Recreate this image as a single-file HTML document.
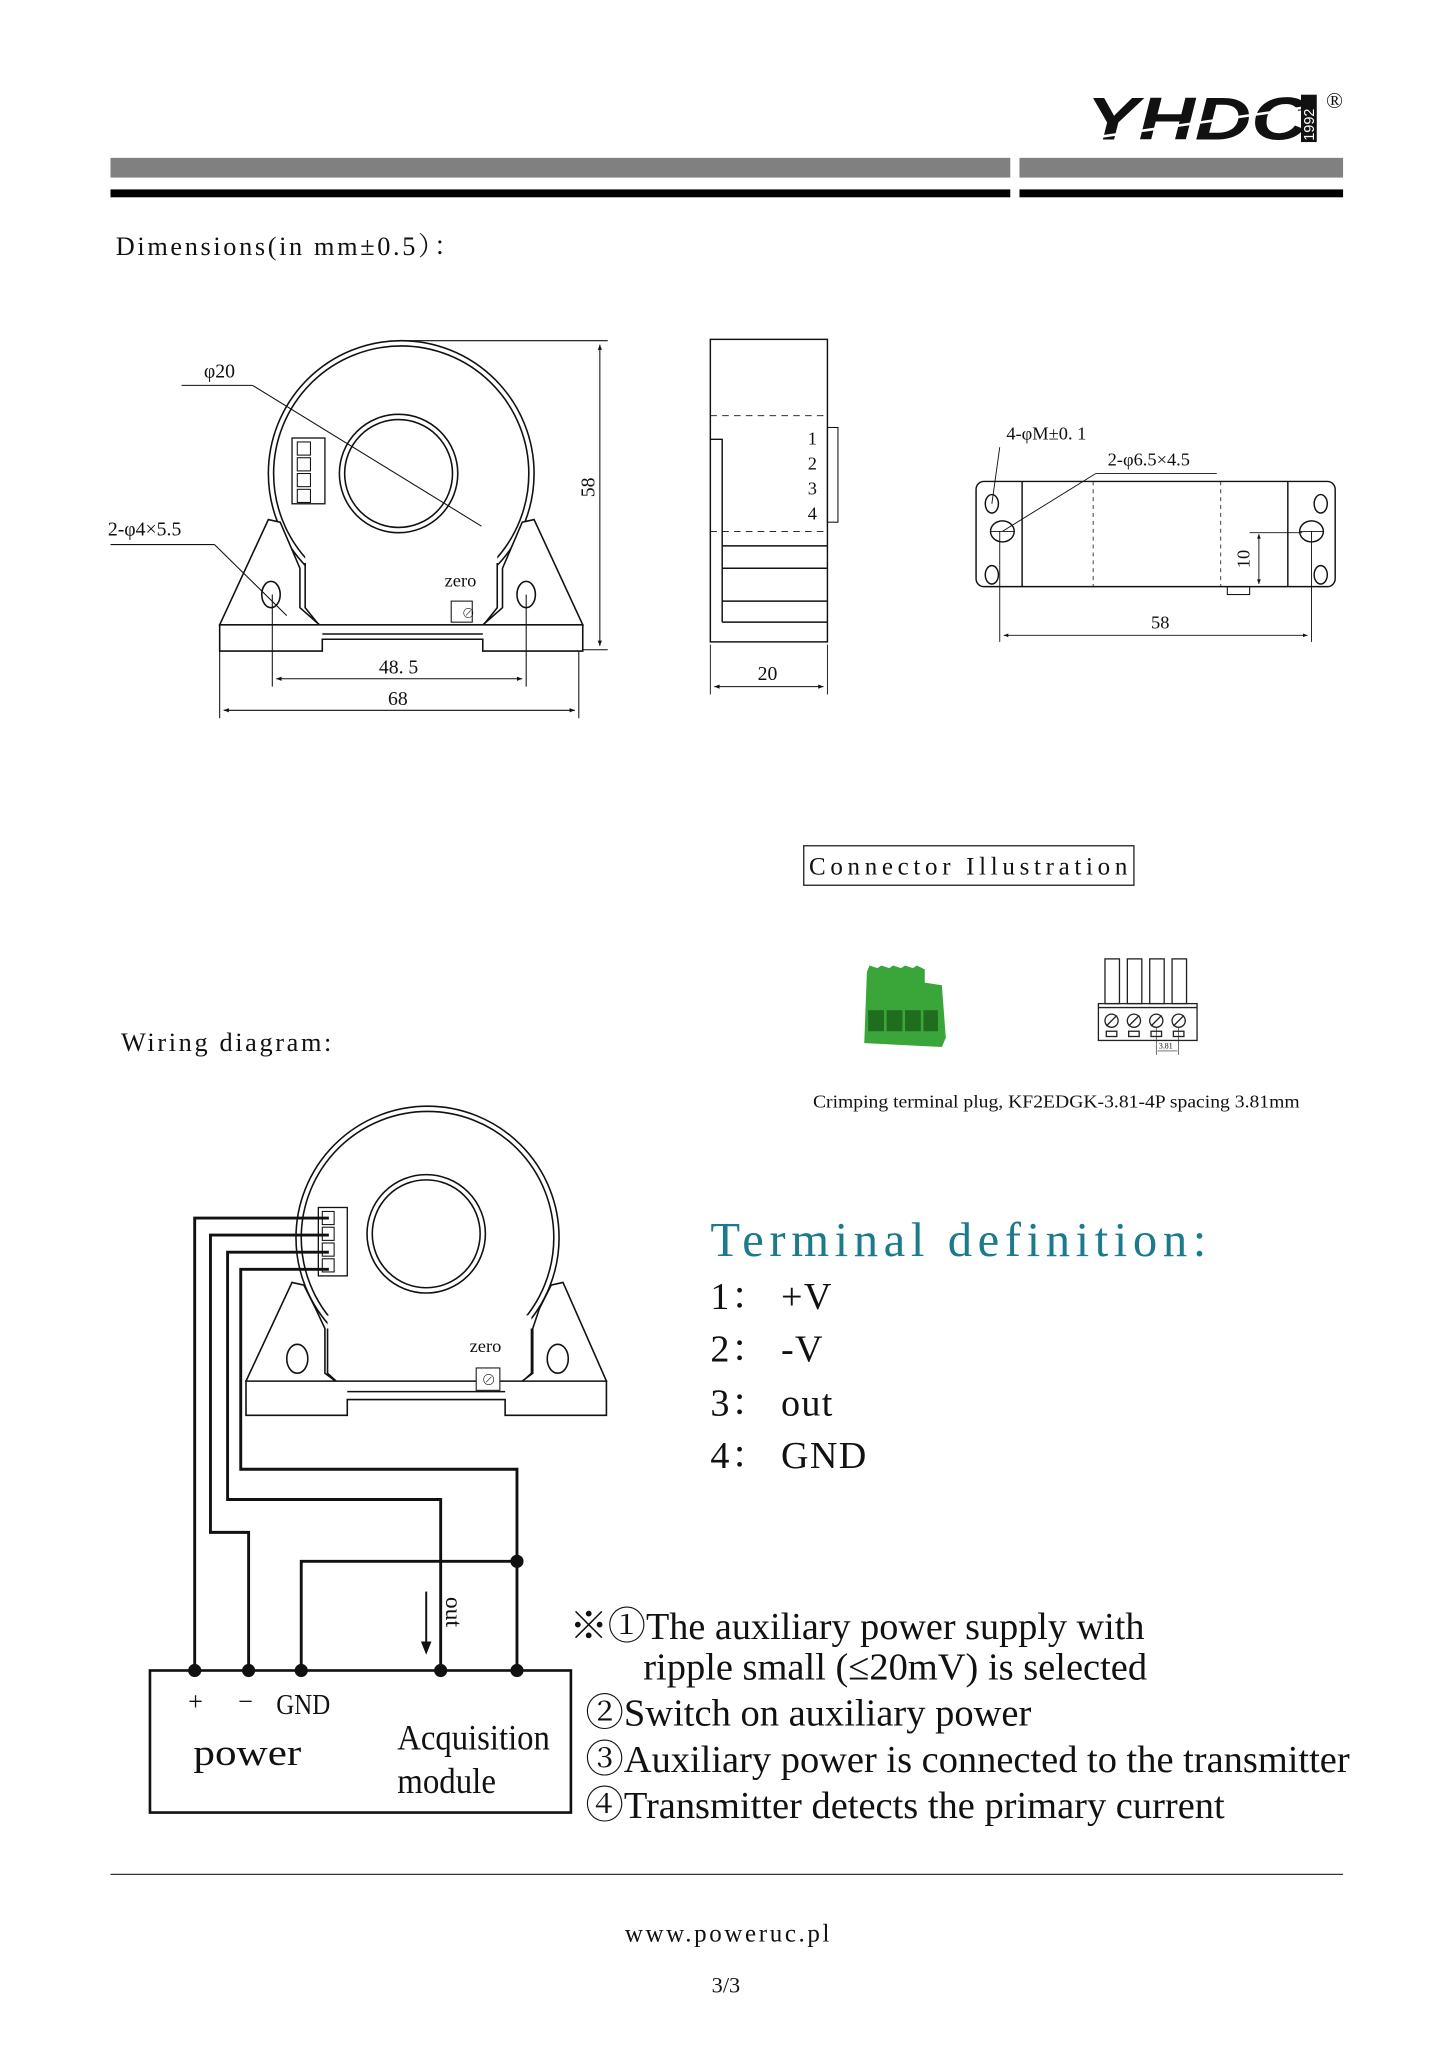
<!DOCTYPE html>
<html><head><meta charset="utf-8"><style>
html,body{margin:0;padding:0;background:#fff;}
svg{display:block;}
text{font-family:"Liberation Serif","Noto Serif CJK SC",serif;fill:#111;}
</style></head><body>
<svg width="1447" height="2048" viewBox="0 0 1100 1557" preserveAspectRatio="none" xmlns="http://www.w3.org/2000/svg">
<defs>
<marker id="ar" viewBox="0 0 10 10" refX="10" refY="5" markerWidth="7" markerHeight="5" orient="auto-start-reverse"><path d="M0,1 L10,5 L0,9 Z" fill="#111"/></marker>
</defs>
<!-- header logo -->
<text x="826" y="106" font-family="Liberation Sans" font-weight="bold" font-style="italic" font-size="46" textLength="168" lengthAdjust="spacingAndGlyphs" style="font-family:'Liberation Sans',sans-serif">YHDC</text>
<line x1="822" y1="106" x2="990" y2="82" stroke="#fff" stroke-width="2"/>
<rect x="989" y="72" width="12" height="36" fill="#111"/>
<text x="0" y="0" transform="translate(999,107) rotate(-90)" font-size="11" fill="#fff" style="fill:#fff;font-family:'Liberation Sans',sans-serif">1992</text>
<text x="1008" y="82" font-size="17">®</text>
<rect x="84" y="120" width="684" height="15" fill="#808080"/>
<rect x="775" y="120" width="246" height="15" fill="#808080"/>
<rect x="84" y="144" width="684" height="6" fill="#000"/>
<rect x="775" y="144" width="246" height="6" fill="#000"/>
<text x="88" y="194" font-size="20" letter-spacing="2">Dimensions(in mm±0.5）：</text>

<!-- front view -->
<g stroke="#111" stroke-width="1.2" fill="#fff">
<circle cx="305" cy="360" r="101"/>
<circle cx="305" cy="360" r="97" fill="none"/>
<rect x="232" y="420" width="146" height="60" stroke="none"/>
<path d="M232,428 L232,462 L244,477 M378,428 L378,462 L366,477" fill="none"/>
<path d="M167,475 L204,395 L213,397 L222,418 L228,432 L228,462 L244,476 Z"/>
<path d="M443,475 L406,395 L397,397 L388,418 L382,432 L382,462 L366,476 Z"/>
<path d="M167,475 L167,495 L245,495 L245,486 L367,486 L367,495 L443,495 L443,475 Z"/>
<line x1="245" y1="482" x2="367" y2="482"/>
<circle cx="303" cy="360" r="45"/>
<circle cx="303" cy="360" r="41" fill="none"/>
<ellipse cx="206" cy="452" rx="7" ry="10"/>
<ellipse cx="400" cy="452" rx="7" ry="10"/>
<rect x="222" y="333" width="25" height="50" stroke-width="1"/>
<rect x="226" y="336" width="10" height="10" stroke-width="0.8"/><rect x="226" y="348" width="10" height="10" stroke-width="0.8"/><rect x="226" y="360" width="10" height="10" stroke-width="0.8"/><rect x="226" y="372" width="10" height="10" stroke-width="0.8"/>
<rect x="343" y="457" width="16" height="16" stroke-width="0.8"/>
</g>
<g stroke="#111" stroke-width="0.8" fill="none">
<line x1="138" y1="293" x2="192" y2="293"/><line x1="192" y1="293" x2="366" y2="400"/>
<line x1="84" y1="414" x2="163" y2="414"/><line x1="163" y1="414" x2="218" y2="468"/>
<line x1="305" y1="259" x2="462" y2="259"/><line x1="443" y1="494" x2="462" y2="494"/>
<line x1="456" y1="262" x2="456" y2="491" marker-start="url(#ar)" marker-end="url(#ar)"/>
<line x1="207" y1="452" x2="207" y2="522"/><line x1="400" y1="452" x2="400" y2="522"/>
<line x1="210" y1="516" x2="397" y2="516" marker-start="url(#ar)" marker-end="url(#ar)"/>
<line x1="167" y1="495" x2="167" y2="546"/><line x1="440" y1="495" x2="440" y2="546"/>
<line x1="170" y1="540" x2="437" y2="540" marker-start="url(#ar)" marker-end="url(#ar)"/>
</g>
<text x="155" y="287" font-size="15">φ20</text>
<text x="82" y="407" font-size="15">2-φ4×5.5</text>
<text x="338" y="446" font-size="14">zero</text>
<text x="351" y="470" font-size="10">⊘</text>
<text x="288" y="512" font-size="15">48. 5</text>
<text x="295" y="536" font-size="15">68</text>
<text x="0" y="0" transform="translate(452,378) rotate(-90)" font-size="15">58</text>

<!-- side view -->
<g stroke="#111" stroke-width="1.1" fill="none">
<rect x="540" y="258" width="89" height="230"/>
<line x1="540" y1="316" x2="629" y2="316" stroke-dasharray="5,4" stroke-width="0.7"/>
<line x1="540" y1="404" x2="629" y2="404" stroke-dasharray="5,4" stroke-width="0.7"/>
<path d="M540,334 L549,334 L549,473"/>
<line x1="549" y1="415" x2="629" y2="415"/><line x1="549" y1="432" x2="629" y2="432"/>
<line x1="549" y1="457" x2="629" y2="457"/><line x1="549" y1="473" x2="629" y2="473"/>
<rect x="629" y="325" width="8" height="72" stroke-width="0.8"/>
<line x1="540" y1="490" x2="540" y2="528" stroke-width="0.7"/><line x1="629" y1="490" x2="629" y2="528" stroke-width="0.7"/>
<line x1="543" y1="522" x2="626" y2="522" stroke-width="0.8" marker-start="url(#ar)" marker-end="url(#ar)"/>
</g>
<text x="614" y="338" font-size="14">1</text><text x="614" y="357" font-size="14">2</text>
<text x="614" y="376" font-size="14">3</text><text x="614" y="395" font-size="14">4</text>
<text x="576" y="517" font-size="15">20</text>

<!-- bottom view -->
<g stroke="#111" stroke-width="1.1" fill="none">
<rect x="742" y="366" width="273" height="80" rx="6"/>
<line x1="777" y1="366" x2="777" y2="446"/><line x1="979" y1="366" x2="979" y2="446"/>
<line x1="831" y1="366" x2="831" y2="446" stroke-dasharray="3,3" stroke-width="0.6"/>
<line x1="928" y1="366" x2="928" y2="446" stroke-dasharray="3,3" stroke-width="0.6"/>
<ellipse cx="754" cy="383" rx="5" ry="7"/><ellipse cx="754" cy="437" rx="5" ry="7"/>
<ellipse cx="1004" cy="383" rx="5" ry="7"/><ellipse cx="1004" cy="437" rx="5" ry="7"/>
<ellipse cx="762" cy="404" rx="9" ry="8"/><ellipse cx="997" cy="404" rx="9" ry="8"/>
<rect x="933" y="446" width="17" height="6" stroke-width="0.8"/>
<g stroke-width="0.7">
<line x1="753" y1="404" x2="771" y2="404"/><line x1="988" y1="404" x2="1006" y2="404"/>
<line x1="760" y1="340" x2="754" y2="383"/>
<line x1="833" y1="360" x2="925" y2="360"/><line x1="833" y1="360" x2="762" y2="404"/>
<line x1="950" y1="405" x2="990" y2="405"/>
<line x1="957" y1="406" x2="957" y2="444" marker-start="url(#ar)" marker-end="url(#ar)"/>
<line x1="760" y1="404" x2="760" y2="488"/><line x1="997" y1="404" x2="997" y2="488"/>
<line x1="763" y1="483" x2="994" y2="483" marker-start="url(#ar)" marker-end="url(#ar)"/>
</g></g>
<text x="765" y="334" font-size="14">4-φM±0. 1</text>
<text x="842" y="354" font-size="14">2-φ6.5×4.5</text>
<text x="0" y="0" transform="translate(950,432) rotate(-90)" font-size="14">10</text>
<text x="875" y="478" font-size="14">58</text>

<!-- connector illustration -->
<rect x="611" y="643" width="251" height="30" fill="none" stroke="#222" stroke-width="1"/>
<text x="615" y="665" font-size="19" letter-spacing="2" textLength="244">Connector Illustration</text>
<g>
<path d="M659,739 L661,734 L667,736 L670,734 L676,736 L679,734 L685,736 L688,734 L694,736 L697,734 L703,737 L703,747 L716,749 L719,789 L716,796 L657,793 Z" fill="#3aa63a"/>
<rect x="660" y="768" width="12" height="16" fill="#1f6e1f"/><rect x="674" y="768" width="12" height="16" fill="#1f6e1f"/>
<rect x="688" y="768" width="12" height="16" fill="#1f6e1f"/><rect x="702" y="768" width="11" height="16" fill="#1f6e1f"/>
</g>
<g stroke="#222" stroke-width="1" fill="none">
<rect x="840" y="729" width="11" height="34"/><rect x="857" y="729" width="11" height="34"/><rect x="874" y="729" width="11" height="34"/><rect x="891" y="729" width="11" height="34"/>
<rect x="835" y="763" width="75" height="28"/><line x1="835" y1="766" x2="910" y2="766"/>
<circle cx="845" cy="776" r="5"/><circle cx="862" cy="776" r="5"/><circle cx="879" cy="776" r="5"/><circle cx="896" cy="776" r="5"/>
<line x1="841" y1="780" x2="849" y2="772"/><line x1="858" y1="780" x2="866" y2="772"/><line x1="875" y1="780" x2="883" y2="772"/><line x1="892" y1="780" x2="900" y2="772"/>
<rect x="841" y="784" width="8" height="4"/><rect x="858" y="784" width="8" height="4"/><rect x="875" y="784" width="8" height="4"/><rect x="892" y="784" width="8" height="4"/>
<line x1="879" y1="781" x2="879" y2="802" stroke-width="0.5"/><line x1="896" y1="781" x2="896" y2="802" stroke-width="0.5"/>
<line x1="880" y1="799" x2="895" y2="799" stroke-width="0.5"/>
</g>
<text x="881" y="797" font-size="6">3.81</text>
<text x="618" y="842" font-size="14" textLength="370" lengthAdjust="spacingAndGlyphs">Crimping terminal plug, KF2EDGK-3.81-4P spacing 3.81mm</text>

<text x="92" y="799" font-size="20" letter-spacing="2">Wiring diagram:</text>

<!-- wiring diagram sensor -->
<g stroke="#111" stroke-width="1.2" fill="#fff">
<circle cx="325" cy="941" r="100"/>
<circle cx="325" cy="941" r="96" fill="none"/>
<rect x="249" y="1000" width="155" height="58" stroke="none"/>
<path d="M249,1010 L249,1044 L262,1056 M404,1010 L404,1044 L391,1056" fill="none"/>
<path d="M187,1050 L222,975 L231,977 L240,995 L247,1010 L247,1044 L263,1056 Z"/>
<path d="M461,1050 L428,975 L419,977 L410,995 L405,1010 L405,1044 L389,1056 Z"/>
<path d="M187,1050 L187,1076 L264,1076 L264,1064 L384,1064 L384,1076 L461,1076 L461,1050 Z"/>
<line x1="264" y1="1058" x2="384" y2="1058"/>
<circle cx="324" cy="938" r="45"/>
<circle cx="324" cy="938" r="41" fill="none"/>
<ellipse cx="226" cy="1033" rx="8" ry="11"/>
<ellipse cx="424" cy="1033" rx="8" ry="11"/>
<rect x="242" y="918" width="22" height="52" stroke-width="1"/>
<rect x="245" y="921" width="9" height="10" stroke-width="0.8"/><rect x="245" y="933" width="9" height="10" stroke-width="0.8"/><rect x="245" y="945" width="9" height="10" stroke-width="0.8"/><rect x="245" y="957" width="9" height="10" stroke-width="0.8"/>
<rect x="362" y="1040" width="18" height="17" stroke-width="0.8"/>
</g>
<text x="357" y="1028" font-size="14">zero</text>
<text x="366" y="1053" font-size="11">⊘</text>

<g stroke="#111" stroke-width="2.2" fill="none">
<path d="M250,926 L148,926 L148,1270"/>
<path d="M250,939 L160,939 L160,1165 L189,1165 L189,1270"/>
<path d="M250,952 L173,952 L173,1140 L335,1140 L335,1270"/>
<path d="M250,965 L183,965 L183,1117 L393,1117 L393,1270"/>
<path d="M229,1270 L229,1187 L393,1187"/>
</g>
<g fill="#111">
<circle cx="148" cy="1270" r="5"/><circle cx="189" cy="1270" r="5"/><circle cx="229" cy="1270" r="5"/>
<circle cx="335" cy="1270" r="5"/><circle cx="393" cy="1270" r="5"/><circle cx="393" cy="1187" r="5"/>
</g>
<line x1="324" y1="1210" x2="324" y2="1250" stroke="#111" stroke-width="1.5"/>
<path d="M320,1248 L324,1258 L328,1248 Z" fill="#111"/>
<text x="0" y="0" transform="translate(339,1214) rotate(90)" font-size="18">out</text>
<rect x="114" y="1270" width="320" height="108" fill="none" stroke="#111" stroke-width="2"/>
<text x="143" y="1300" font-size="20">+</text>
<text x="181" y="1300" font-size="20">−</text>
<text x="210" y="1303" font-size="22" textLength="41" lengthAdjust="spacingAndGlyphs">GND</text>
<text x="147" y="1342" font-size="28" textLength="82" lengthAdjust="spacingAndGlyphs">power</text>
<text x="302" y="1330" font-size="27" textLength="116" lengthAdjust="spacingAndGlyphs">Acquisition</text>
<text x="302" y="1363" font-size="27" textLength="75" lengthAdjust="spacingAndGlyphs">module</text>

<text x="540" y="955" font-size="37" letter-spacing="3" style="fill:#1b7a8c" textLength="380">Terminal definition:</text>
<text x="540" y="995" font-size="29" letter-spacing="1">1： +V</text>
<text x="540" y="1035" font-size="29" letter-spacing="1">2： -V</text>
<text x="540" y="1076" font-size="29" letter-spacing="1">3： out</text>
<text x="540" y="1116" font-size="29" letter-spacing="1">4： GND</text>

<text x="433" y="1246" font-size="29" textLength="437" lengthAdjust="spacingAndGlyphs">※①The auxiliary power supply with</text>
<text x="489" y="1277" font-size="29" textLength="383" lengthAdjust="spacingAndGlyphs">ripple small (≤20mV) is selected</text>
<text x="445" y="1312" font-size="29" textLength="339" lengthAdjust="spacingAndGlyphs">②Switch on auxiliary power</text>
<text x="445" y="1347" font-size="29" textLength="581" lengthAdjust="spacingAndGlyphs">③Auxiliary power is connected to the transmitter</text>
<text x="445" y="1382" font-size="29" textLength="486" lengthAdjust="spacingAndGlyphs">④Transmitter detects the primary current</text>

<line x1="84" y1="1425" x2="1021" y2="1425" stroke="#333" stroke-width="1"/>
<text x="475" y="1476" font-size="19" letter-spacing="2">www.poweruc.pl</text>
<text x="541" y="1515" font-size="17">3/3</text>
</svg>
</body></html>
